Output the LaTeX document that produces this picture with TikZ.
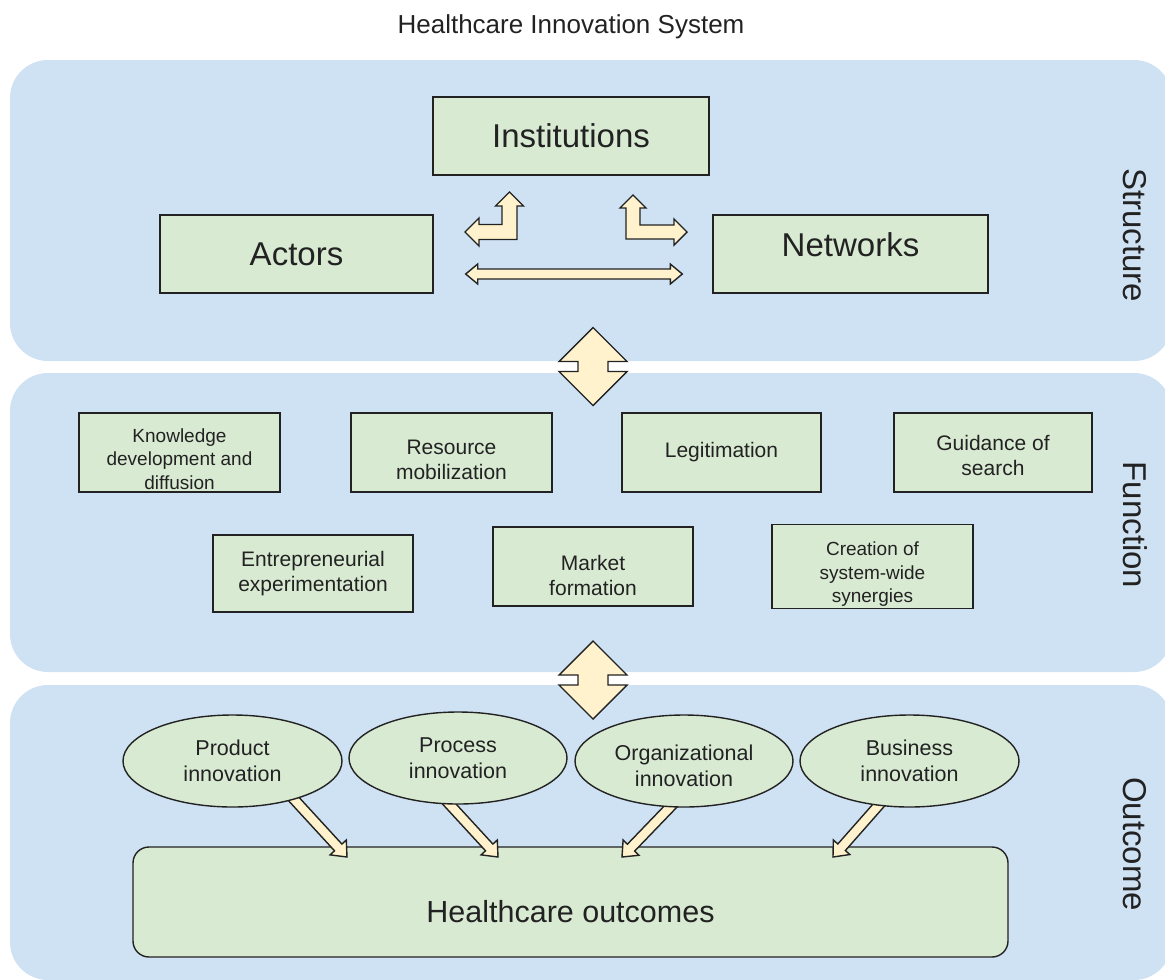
\documentclass[tikz,border=0pt]{standalone}
\usepackage{fontspec}
\setmainfont{Liberation Sans}
\usetikzlibrary{shapes.geometric,calc}
\definecolor{panelblue}{RGB}{207,226,243}
\definecolor{boxgreen}{RGB}{217,234,211}
\definecolor{arrowcream}{RGB}{255,242,204}
\definecolor{ink}{RGB}{34,34,34}
\pgfdeclarelayer{panels}
\pgfdeclarelayer{under}
\pgfdeclarelayer{links}
\pgfsetlayers{panels,under,links,main}

% block arrow from #1 to #2, tail tucked behind the start node
\newcommand{\fatarrow}[2]{%
  \path (#2) coordinate (fa-tip) ($(#2)!13pt!(#1)$) coordinate (fa-base)
        ($(#1)!-10pt!(#2)$) coordinate (fa-tail);
  \draw[fat] ($(fa-tail)!5pt!90:(fa-tip)$) -- ($(fa-base)!5pt!90:(fa-tip)$)
    -- ($(fa-base)!11pt!90:(fa-tip)$) -- (fa-tip)
    -- ($(fa-base)!11pt!-90:(fa-tip)$) -- ($(fa-base)!5pt!-90:(fa-tip)$)
    -- ($(fa-tail)!5pt!-90:(fa-tip)$) -- cycle;}
% up/down diamond arrow centred on #1
\newcommand{\updown}[1]{%
  \draw[fat] #1 ++(0,-39) -- ++(34,34) -- ++(-19,0) -- ++(0,10) -- ++(19,0)
    -- ++(-34,34) -- ++(-34,-34) -- ++(19,0) -- ++(0,-10) -- ++(-19,0) -- cycle;}
% taller first line, pushes the label down in its box
\newcommand{\padtop}[1]{\rule{0pt}{#1}}

\begin{document}
\begin{tikzpicture}[x=1pt,y=-1pt,
 box/.style={draw=ink,fill=boxgreen,line width=1.4pt,align=center,text=ink,inner sep=2pt},
 oval/.style={box,ellipse,inner sep=0pt,minimum width=218pt,minimum height=92pt,
   font=\fontsize{21.5}{26}\selectfont},
 fbox/.style={box,minimum width=200pt,minimum height=79pt,font=\fontsize{21}{25}\selectfont},
 small/.style={font=\fontsize{19}{23.5}\selectfont},
 sbox/.style={box,minimum width=275pt,minimum height=78pt,font=\fontsize{33}{38}\selectfont},
 side/.style={rotate=-90,text=ink,font=\fontsize{33}{38}\selectfont},
 panel/.style={fill=panelblue,rounded corners=38pt},
 fat/.style={draw=ink,fill=arrowcream,line width=1.4pt,line join=miter}]
\clip (0,0) rectangle (1165,980);

\node[text=ink,font=\fontsize{26}{30}\selectfont] (title) at (571,27) {Healthcare Innovation System};

% structure
\node[sbox,minimum width=276pt] (inst) at (571,136) {Institutions};
\node[sbox,minimum width=273pt] (actors) at (296.5,254) {Actors};
\node[sbox] (netw) at (850.5,254) {\raisebox{9pt}[\height][\depth]{Networks}};
\node[side] (lstruct) at (1135,235) {Structure};

% function
\node[fbox,small,minimum width=201pt] (know) at (179.5,452.5) {\padtop{27pt}Knowledge\\development and\\diffusion};
\node[fbox,minimum width=201pt] (res) at (451.5,452.5) {\padtop{29pt}Resource\\mobilization};
\node[fbox,minimum width=199pt] (legit) at (721.5,452.5) {Legitimation};
\node[fbox,minimum width=198pt] (guide) at (993,452.5) {\padtop{21pt}Guidance of\\search};
\node[fbox,minimum height=77pt] (entr) at (313,573.5) {Entrepreneurial\\experimentation};
\node[fbox] (market) at (593,566.5) {\padtop{33pt}Market\\formation};
\node[fbox,small,minimum width=201pt] (synergy) at (872.5,566.5) {\padtop{29.5pt}Creation of\\system-wide\\synergies};
\node[side] (lfunc) at (1135,525) {Function};

% outcome
\node[oval,minimum width=219pt] (prod) at (232.5,761) {Product\\innovation};
\node[oval] (proc) at (458,758) {Process\\innovation};
\node[oval] (org) at (684,761) {\padtop{25.5pt}Organizational\\innovation};
\node[oval,minimum width=219pt] (bus) at (909.5,761) {Business\\innovation};
\node[side] (lout) at (1135,844) {Outcome};

\coordinate (t1) at (347,857);
\coordinate (t2) at (498,857);
\coordinate (t3) at (622,857);
\coordinate (t4) at (833,857);
\coordinate (ha-l) at ($(actors.east)+(32,20)$);
\coordinate (ha-r) at ($(netw.west)+(-30,20)$);

\begin{pgfonlayer}{panels}
\fill[panel] (10,60) rectangle (1172,361);
\fill[panel] (10,373) rectangle (1172,672);
\fill[panel] (10,685) rectangle (1172,980);
\end{pgfonlayer}

\begin{pgfonlayer}{under}
\node[box,rounded corners=16pt,minimum width=875pt,minimum height=110pt,
  font=\fontsize{30.5}{36}\selectfont] (health) at (570.5,902)
  {\raisebox{-10pt}[\height][\depth]{Healthcare outcomes}};
\end{pgfonlayer}

\begin{pgfonlayer}{links}
\fatarrow{prod.-32}{t1}
\fatarrow{proc.-100}{t2}
\fatarrow{org.-107}{t3}
\fatarrow{bus.-125}{t4}
\end{pgfonlayer}

% arrows between the structure boxes
\draw[fat] (465,232) -- (479,218) -- (479,224.5) -- (502,224.5) -- (502,206) -- (495.5,206)
  -- (509.5,192) -- (523.5,206) -- (517,206) -- (517,239.5) -- (479,239.5) -- (479,246) -- cycle;
\draw[fat] (633,195) -- (646,208) -- (640,208) -- (640,225) -- (674,225) -- (674,219)
  -- (687,232) -- (674,245) -- (674,239) -- (626,239) -- (626,208) -- (620,208) -- cycle;
\draw[fat] (ha-l) -- ++(12,-10) -- ++(0,5) -- ($(ha-r)+(-12,-5)$) -- ++(0,-5) -- (ha-r)
  -- ++(-12,10) -- ++(0,-5) -- ($(ha-l)+(12,5)$) -- ++(0,5) -- cycle;

% arrows between the layers
\updown{(593,366.5)}
\updown{(593,680)}
\end{tikzpicture}
\end{document}
